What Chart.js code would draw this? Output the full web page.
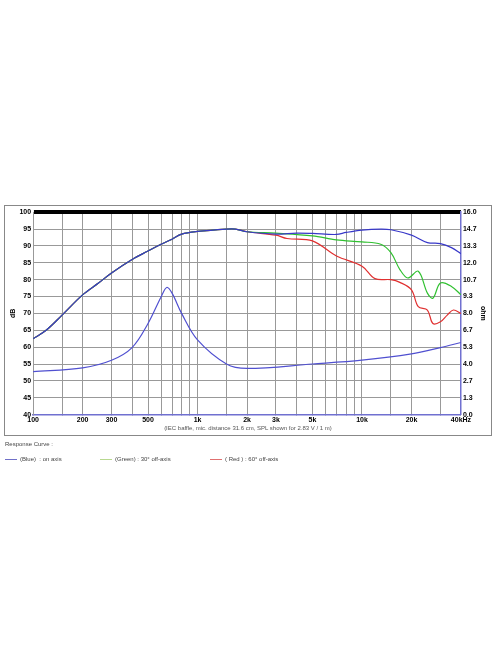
<!DOCTYPE html>
<html>
<head>
<meta charset="utf-8">
<script src="https://cdn.jsdelivr.net/npm/chart.js@4"></script>
<style>
  body { margin: 0; background: #fff; font-family: "Liberation Sans", Arial, sans-serif; }
  #frame { position: absolute; left: 4px; top: 205px; width: 486px; height: 229px; border: 1px solid #888; }
  #chartBox { position: absolute; left: 0; top: 0; width: 486px; height: 229px; }
  #caption { position: absolute; left: 0; width: 486px; top: 219px; text-align: center; font-size: 6px; color: #555; }
  .lbl { position: absolute; font-size: 6px; color: #444; }
  .sw { display: inline-block; width: 12px; height: 1px; vertical-align: middle; margin-right: 3px; }
</style>
</head>
<body>
<div id="frame">
  <div id="chartBox"><canvas id="spl"></canvas></div>
  <div id="caption">(IEC baffle, mic. distance 31.6 cm, SPL shown for 2.83 V / 1 m)</div>
</div>
<div class="lbl" style="left:5px;top:441px">Response Curve :</div>
<div class="lbl" style="left:5px;top:456px"><span class="sw" style="background:#7070c8"></span>(Blue) &nbsp;: on axis</div>
<div class="lbl" style="left:100px;top:456px"><span class="sw" style="background:#b8d890"></span>(Green) : 30° off-axis</div>
<div class="lbl" style="left:210px;top:456px"><span class="sw" style="background:#e07070"></span>( Red ) : 60° off-axis</div>
<script>
// shared low/mid part (all three curves overlap up to ~2k)
const lowFreq = [100, 120, 150, 200, 250, 300, 400, 500, 600, 700, 800, 1000, 1500, 1700, 2000];
const lowSpl  = [62.5, 65, 69.5, 75.5, 79, 82, 86, 88.5, 90.5, 92, 93.5, 94.3, 95, 95, 94.2];

const blueFreq = [3000, 4000, 5000, 7000, 8000, 10000, 13000, 15000, 20000, 25000, 30000, 35000, 40000];
const blueSpl  = [93.5, 93.8, 93.7, 93.4, 94, 94.7, 95, 94.8, 93.2, 91, 90.7, 89.5, 87.7];

const greenFreq = [3000, 5000, 7000, 10000, 13000, 15000, 17000, 19000, 22000, 25000, 27000, 30000, 35000, 40000];
const greenSpl  = [93.8, 93, 91.8, 91.2, 90.5, 88, 83, 80.5, 82.5, 76, 74.5, 79, 78, 75.5];

const redFreq = [3000, 3500, 5000, 7000, 10000, 12000, 15000, 17000, 20000, 22000, 25000, 27000, 30000, 33000, 36000, 40000];
const redSpl  = [93.2, 92.2, 91.5, 87, 84, 80.3, 80, 79.2, 77, 72, 71, 67, 67.5, 69.5, 71, 70];

const impFreq = [100, 200, 300, 400, 500, 600, 650, 700, 800, 1000, 1500, 2000, 5000, 10000, 20000, 30000, 40000];
const impOhm  = [3.4, 3.7, 4.3, 5.3, 7.2, 9.3, 10.05, 9.6, 8.0, 5.9, 4.0, 3.65, 4.0, 4.3, 4.8, 5.3, 5.7];

const gridFreq = [100, 150, 200, 300, 400, 500, 600, 700, 800, 900, 1000, 1500, 2000, 3000, 4000, 5000, 6000, 7000, 8000, 9000, 10000, 15000, 20000, 30000, 40000];
const freqLabels = {100: "100", 200: "200", 300: "300", 500: "500", 1000: "1k", 2000: "2k", 3000: "3k", 5000: "5k", 10000: "10k", 20000: "20k", 40000: "40kHz"};
const ohmLabels = ["0.0", "1.3", "2.7", "4.0", "5.3", "6.7", "8.0", "9.3", "10.7", "12.0", "13.3", "14.7", "16.0"];

function pts(fs, vs) { return fs.map((f, i) => ({ x: f, y: vs[i] })); }

const tickFont = { size: 7, weight: "bold", family: "Liberation Sans" };

new Chart(document.getElementById("spl"), {
    type: "line",
    data: {
        datasets: [
            { label: "Blue", data: pts(lowFreq.concat(blueFreq), lowSpl.concat(blueSpl)), borderColor: "#3838c8", yAxisID: "y" },
            { label: "Green", data: pts(lowFreq.concat(greenFreq), lowSpl.concat(greenSpl)), borderColor: "#30c030", yAxisID: "y" },
            { label: "Red", data: pts(lowFreq.concat(redFreq), lowSpl.concat(redSpl)), borderColor: "#e03030", yAxisID: "y" },
            { label: "Impedance", data: pts(impFreq, impOhm), borderColor: "#5050d0", yAxisID: "y2" }
        ]
    },
    options: {
        animation: false,
        responsive: true,
        maintainAspectRatio: false,
        layout: { padding: { left: 4, right: 4, top: 6, bottom: 10 } },
        elements: { point: { radius: 0 }, line: { borderWidth: 1.2, tension: 0.35 } },
        plugins: { legend: { display: false }, tooltip: { enabled: false } },
        scales: {
            x: {
                type: "logarithmic", min: 100, max: 40000,
                afterBuildTicks: axis => { axis.ticks = gridFreq.map(v => ({ value: v })); },
                ticks: { autoSkip: false, maxRotation: 0, font: tickFont, color: "#000", padding: 1,
                    callback: v => freqLabels[v] || "" },
                grid: { color: "#999", tickLength: 0 },
                border: { color: "#7070d0", width: 1.5 }
            },
            y: {
                position: "left", min: 40, max: 100,
                ticks: { stepSize: 5, font: tickFont, color: "#000", padding: 2 },
                grid: { color: ctx => ctx.tick.value === 100 ? "#000" : "#999",
                        lineWidth: ctx => ctx.tick.value === 100 ? 4 : 1, tickLength: 0 },
                border: { color: "#999" },
                title: { display: true, text: "dB", font: { size: 7, weight: "bold" }, color: "#000", padding: 0 }
            },
            y2: {
                position: "right", min: 0, max: 16,
                afterBuildTicks: axis => { axis.ticks = ohmLabels.map((s, i) => ({ value: i * 16 / 12 })); },
                ticks: { font: tickFont, color: "#000", padding: 2,
                    callback: (v, i) => ohmLabels[i] },
                grid: { drawOnChartArea: false, tickLength: 0 },
                border: { color: "#7070d0", width: 1.5 },
                title: { display: true, text: "ohm", font: { size: 7, weight: "bold" }, color: "#000", padding: 0 }
            }
        }
    }
});
</script>
</body>
</html>
